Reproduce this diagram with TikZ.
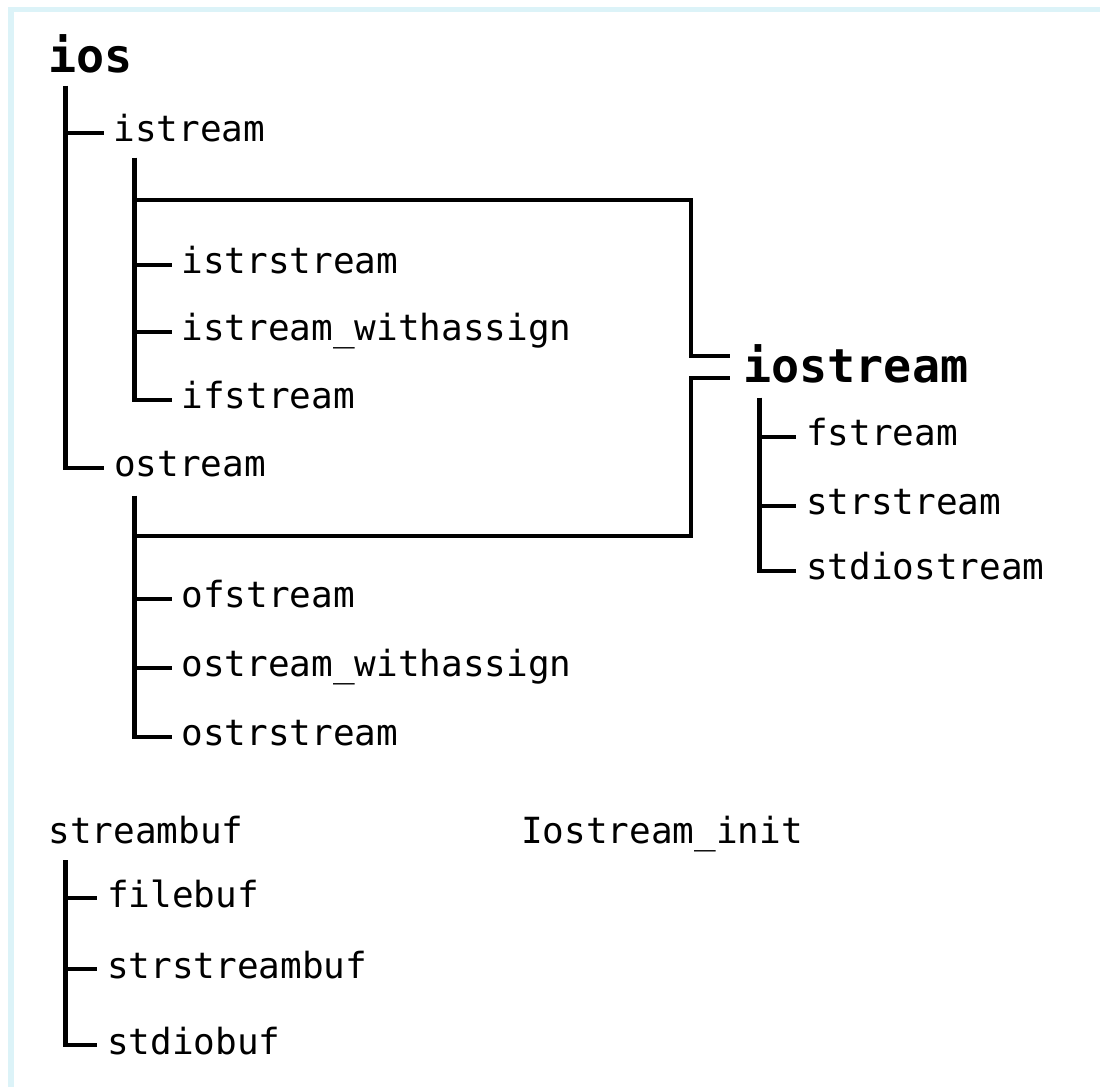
\documentclass[tikz,border=0pt]{standalone}
\usepackage{fontspec}
\newfontfamily\pixfont{DejaVu Sans Mono}
\definecolor{framecyan}{RGB}{220,243,248}
\begin{document}
\begin{tikzpicture}[x=0.75pt,y=-0.75pt,
  item/.style={font=\pixfont\fontsize{27pt}{31pt}\selectfont, inner sep=0pt,
    outer xsep=7.5pt, outer ysep=0pt, text height=13.5pt, text depth=0pt, anchor=west},
  head/.style={font=\pixfont\bfseries\fontsize{35pt}{40pt}\selectfont, inner sep=0pt,
    outer sep=0pt, anchor=base west},
  plain/.style={font=\pixfont\fontsize{27pt}{31pt}\selectfont, inner sep=0pt,
    outer sep=0pt, anchor=base west},
  wire/.style={line width=3.3pt, black}]
\useasboundingbox (0,0) rectangle (1101,1087);
\fill[framecyan] (8,7) rectangle (14,1087);
\fill[framecyan] (8,7) rectangle (1100,12);

% ios tree
\node[head] (ios) at (48.5,73) {ios};
\coordinate (iosT) at (65.5,86);
\node[item] (istream) at (103.5,133) {istream};
\node[item] (ostream) at (104,468) {ostream};

\coordinate (istrT) at (134.5,158);
\node[item] (istrstream) at (171.5,265) {istrstream};
\node[item] (iswa) at (171.5,332) {istream\_withassign};
\node[item] (ifstream) at (171.5,400) {ifstream};

\coordinate (ostrT) at (134.5,496);
\node[item] (ofstream) at (171.5,599) {ofstream};
\node[item] (oswa) at (171.5,668) {ostream\_withassign};
\node[item] (ostrstream) at (171.5,737) {ostrstream};

% iostream
\node[head, anchor=west, outer xsep=10.125pt, text height=24pt, text depth=0pt] (iostream) at (730,367) {iostream};
\coordinate (ioT) at (759.5,398);
\node[item] (fstream) at (796,437) {fstream};
\node[item] (strstream) at (796,506) {strstream};
\node[item] (stdiostream) at (796,571) {stdiostream};

% streambuf
\node[plain] (streambuf) at (48.5,843) {streambuf};
\node[plain] (ioinit) at (521,843) {Iostream\_init};
\coordinate (sbT) at (65.5,860);
\node[item] (filebuf) at (97,898) {filebuf};
\node[item] (strstreambuf) at (97,969) {strstreambuf};
\node[item] (stdiobuf) at (97,1045) {stdiobuf};

% connectors
\draw[wire] (iosT) |- (istream.west);
\draw[wire] (iosT) |- (ostream.west);

\draw[wire] (istrT) |- (istrstream.west);
\draw[wire] (istrT) |- (iswa.west);
\draw[wire] (istrT) |- (ifstream.west);

\draw[wire] (ostrT) |- (ofstream.west);
\draw[wire] (ostrT) |- (oswa.west);
\draw[wire] (ostrT) |- (ostrstream.west);

\coordinate (jA) at (691,200);
\coordinate (jB) at (691,536);
\draw[wire] (istrT |- jA) -- (jA) |- ([yshift=8.25pt]iostream.west);
\draw[wire] (ostrT |- jB) -- (jB) |- ([yshift=-8.25pt]iostream.west);

\draw[wire] (ioT) |- (fstream.west);
\draw[wire] (ioT) |- (strstream.west);
\draw[wire] (ioT) |- (stdiostream.west);

\draw[wire] (sbT) |- (filebuf.west);
\draw[wire] (sbT) |- (strstreambuf.west);
\draw[wire] (sbT) |- (stdiobuf.west);
\end{tikzpicture}
\end{document}
